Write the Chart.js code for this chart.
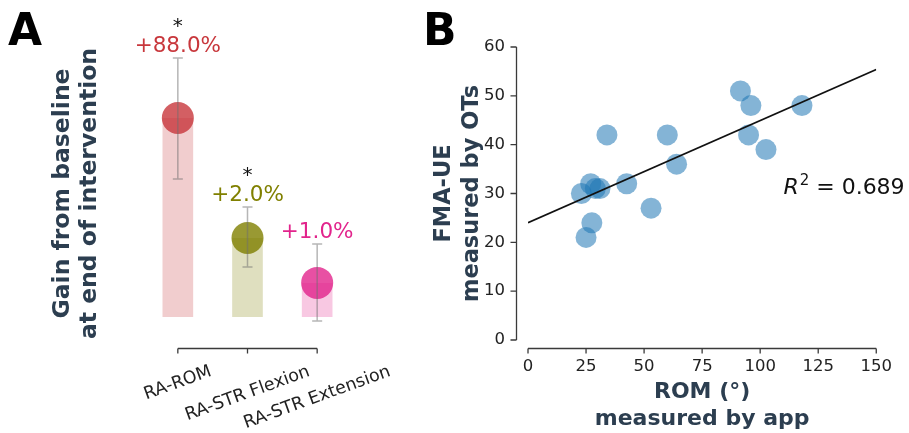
<!DOCTYPE html>
<html><head><meta charset="utf-8">
<script src="https://cdn.jsdelivr.net/npm/chart.js@4.4.1/dist/chart.umd.min.js"></script>
<style>
html,body{margin:0;padding:0;background:#fff;}
#wrap{position:relative;width:909px;height:433px;overflow:hidden;background:#fff;}
canvas{position:absolute;top:0;}
#cA{left:0;} #cB{left:420px;}
.lbl{position:absolute;font-family:'DejaVu Sans';font-weight:bold;font-size:44px;color:#000;line-height:1;}
</style></head><body>
<div id="wrap">
<canvas id="cA" width="420" height="433"></canvas>
<canvas id="cB" width="489" height="433"></canvas>
<div class="lbl" style="left:8px;top:8px">A</div>
<div class="lbl" style="left:423px;top:8px">B</div>
</div>
<script>
// ---- Panel A data ----
const categoriesA = ['RA-ROM', 'RA-STR Flexion', 'RA-STR Extension'];
const gainMean  = [1.000, 0.397, 0.171];
const gainUpper = [1.302, 0.553, 0.367];
const gainLower = [0.693, 0.251, -0.020];
const gainLabels = ['+88.0%', '+2.0%', '+1.0%'];
const sigMarks = ['*', '*', ''];
const yRangeA = [-0.116, 1.357];
const baseColors = [[200, 55, 60], [128, 128, 0], [226, 36, 140]];

// ---- Panel B data ----
const romApp = [91.5, 96, 118, 34, 60, 95, 102.5, 64, 42.5, 27, 29, 31, 23, 53, 27.5, 25];
const fmaOT  = [51, 48, 48, 42, 42, 42, 39, 36, 32, 32, 31, 31, 30, 27, 24, 21];
const fitX = [0, 150];
const fitY = [24.0, 55.4];
const r2Value = '0.689';
const r2Pos = [110, 31.5];
const xRangeB = [0, 150];
const yRangeB = [0, 60];

Chart.defaults.font.family = 'DejaVu Sans';
Chart.defaults.color = '#222';

const rgba = (c, a) => `rgba(${c[0]},${c[1]},${c[2]},${a})`;
const titleColor = '#2c3e50';

const panelAPlugin = {
  id: 'panelA',
  afterDatasetsDraw(chart) {
    const ctx = chart.ctx, x = chart.scales.x, y = chart.scales.y;
    ctx.save();
    ctx.strokeStyle = 'rgba(110,110,110,0.5)';
    ctx.lineWidth = 1.5;
    categoriesA.forEach((c, i) => {
      const px = x.getPixelForValue(i);
      const yt = y.getPixelForValue(gainUpper[i]);
      const yb = y.getPixelForValue(gainLower[i]);
      ctx.beginPath();
      ctx.moveTo(px, yt); ctx.lineTo(px, yb);
      ctx.moveTo(px - 5, yt); ctx.lineTo(px + 5, yt);
      ctx.moveTo(px - 5, yb); ctx.lineTo(px + 5, yb);
      ctx.stroke();
    });
    ctx.restore();
  },
  afterDraw(chart) {
    const ctx = chart.ctx, x = chart.scales.x, y = chart.scales.y, ca = chart.chartArea;
    ctx.save();
    // trimmed, offset x spine
    const sy = Math.round(ca.bottom + 8) + 0.5;
    ctx.strokeStyle = '#3a3a3a';
    ctx.lineWidth = 1.3;
    ctx.beginPath();
    ctx.moveTo(x.getPixelForValue(0), sy);
    ctx.lineTo(x.getPixelForValue(categoriesA.length - 1), sy);
    categoriesA.forEach((c, i) => {
      const p = x.getPixelForValue(i);
      ctx.moveTo(p, sy); ctx.lineTo(p, sy + 5);
    });
    ctx.stroke();
    // rotated category labels, centred under their ticks
    const th = 20 * Math.PI / 180;
    const fs = 17.5;
    ctx.font = fs + 'px "DejaVu Sans"';
    ctx.fillStyle = '#222';
    ctx.textAlign = 'center';
    ctx.textBaseline = 'middle';
    categoriesA.forEach((c, i) => {
      const p = x.getPixelForValue(i);
      const w = ctx.measureText(c).width;
      const h = fs * 1.05;
      const H = w * Math.sin(th) + h * Math.cos(th);
      ctx.save();
      ctx.translate(p, sy + 14 + H / 2);
      ctx.rotate(-th);
      ctx.fillText(c, 0, 0);
      ctx.restore();
    });
    // percentage labels and significance marks
    ctx.textBaseline = 'alphabetic';
    categoriesA.forEach((c, i) => {
      const p = x.getPixelForValue(i);
      const yt = y.getPixelForValue(gainUpper[i]);
      ctx.font = '21.5px "DejaVu Sans"';
      ctx.fillStyle = `rgb(${baseColors[i].join(',')})`;
      ctx.fillText(gainLabels[i], p, yt - 5.5);
      if (sigMarks[i]) {
        ctx.font = '20px "DejaVu Sans"';
        ctx.fillStyle = '#111';
        ctx.fillText(sigMarks[i], p, yt - 25.5);
      }
    });
    ctx.restore();
  }
};

new Chart(document.getElementById('cA'), {
  type: 'bar',
  data: {
    labels: categoriesA,
    datasets: [
      {
        type: 'line', data: gainMean, showLine: false, order: 0,
        pointRadius: 16, pointHoverRadius: 16, pointBorderWidth: 0,
        pointBackgroundColor: baseColors.map(c => rgba(c, 0.8))
      },
      {
        type: 'bar', data: gainMean, order: 1,
        backgroundColor: baseColors.map(c => rgba(c, 0.25)),
        borderWidth: 0, barPercentage: 0.44, categoryPercentage: 1.0
      }
    ]
  },
  options: {
    responsive: false, animation: false,
    layout: { padding: { left: 49, top: 47, right: 68, bottom: 0 } },
    plugins: { legend: { display: false }, tooltip: { enabled: false } },
    scales: {
      x: {
        type: 'category', offset: true,
        ticks: { display: false },
        grid: { display: false, drawTicks: false },
        border: { display: false },
        afterFit(s) { s.height = 93; }
      },
      y: {
        min: yRangeA[0], max: yRangeA[1],
        ticks: { display: false },
        grid: { display: false, drawTicks: false },
        border: { display: false },
        title: {
          display: true, text: ['Gain from baseline', 'at end of intervention'],
          color: titleColor, padding: 0,
          font: { size: 23.5, weight: 'bold', lineHeight: 1.15 }
        },
        afterFit(s) { s.width = 94; }
      }
    }
  },
  plugins: [panelAPlugin]
});

const panelBPlugin = {
  id: 'panelB',
  afterDraw(chart) {
    const ctx = chart.ctx, x = chart.scales.x, y = chart.scales.y, ca = chart.chartArea;
    ctx.save();
    ctx.strokeStyle = '#3a3a3a';
    ctx.lineWidth = 1.3;
    const sx = Math.round(ca.left - 12) + 0.5;
    const sy = Math.round(ca.bottom + 8) + 0.5;
    ctx.beginPath();
    ctx.moveTo(sx, y.getPixelForValue(yRangeB[0]));
    ctx.lineTo(sx, y.getPixelForValue(yRangeB[1]));
    y.ticks.forEach(t => { const p = y.getPixelForValue(t.value); ctx.moveTo(sx - 6, p); ctx.lineTo(sx, p); });
    ctx.moveTo(x.getPixelForValue(xRangeB[0]), sy);
    ctx.lineTo(x.getPixelForValue(xRangeB[1]), sy);
    x.ticks.forEach(t => { const p = x.getPixelForValue(t.value); ctx.moveTo(p, sy); ctx.lineTo(p, sy + 5); });
    ctx.stroke();
    // R^2 annotation
    let px = x.getPixelForValue(r2Pos[0]);
    const py = y.getPixelForValue(r2Pos[1]) + 8;
    ctx.fillStyle = '#111';
    ctx.textAlign = 'left';
    ctx.textBaseline = 'alphabetic';
    ctx.font = 'italic 22px "DejaVu Sans"';
    ctx.fillText('R', px, py);
    px += ctx.measureText('R').width + 1;
    ctx.font = '15px "DejaVu Sans"';
    ctx.fillText('2', px, py - 9);
    px += ctx.measureText('2').width;
    ctx.font = '22px "DejaVu Sans"';
    ctx.fillText(' = ' + r2Value, px, py);
    ctx.restore();
  }
};

new Chart(document.getElementById('cB'), {
  type: 'scatter',
  data: {
    datasets: [
      {
        type: 'line', order: 0,
        data: fitX.map((v, i) => ({ x: v, y: fitY[i] })),
        borderColor: '#111', borderWidth: 1.8, pointRadius: 0, fill: false
      },
      {
        type: 'scatter', order: 1,
        data: romApp.map((v, i) => ({ x: v, y: fmaOT[i] })),
        pointRadius: 10.5, pointHoverRadius: 10.5, pointBorderWidth: 0,
        backgroundColor: 'rgba(31,119,180,0.55)'
      }
    ]
  },
  options: {
    responsive: false, animation: false,
    layout: { padding: { left: 10, top: 47, right: 31, bottom: 0 } },
    plugins: { legend: { display: false }, tooltip: { enabled: false } },
    scales: {
      x: {
        type: 'linear', min: xRangeB[0], max: xRangeB[1],
        ticks: { stepSize: 25, font: { size: 16.5 }, color: '#222', padding: 17, autoSkip: false, maxRotation: 0 },
        grid: { display: false, drawTicks: false },
        border: { display: false },
        title: {
          display: true, text: ['ROM (°)', 'measured by app'],
          color: titleColor, padding: { top: 0, bottom: 1 },
          font: { size: 22, weight: 'bold', lineHeight: 1.2 }
        },
        afterFit(s) { s.height = 93; }
      },
      y: {
        type: 'linear', min: yRangeB[0], max: yRangeB[1],
        ticks: { stepSize: 10, font: { size: 16.5 }, color: '#222', padding: 23 },
        grid: { display: false, drawTicks: false },
        border: { display: false },
        title: {
          display: true, text: ['FMA-UE', 'measured by OTs'],
          color: titleColor, padding: 0,
          font: { size: 22.5, weight: 'bold', lineHeight: 1.25 }
        },
        afterFit(s) { s.width = 98; }
      }
    }
  },
  plugins: [panelBPlugin]
});
</script>
</body></html>
